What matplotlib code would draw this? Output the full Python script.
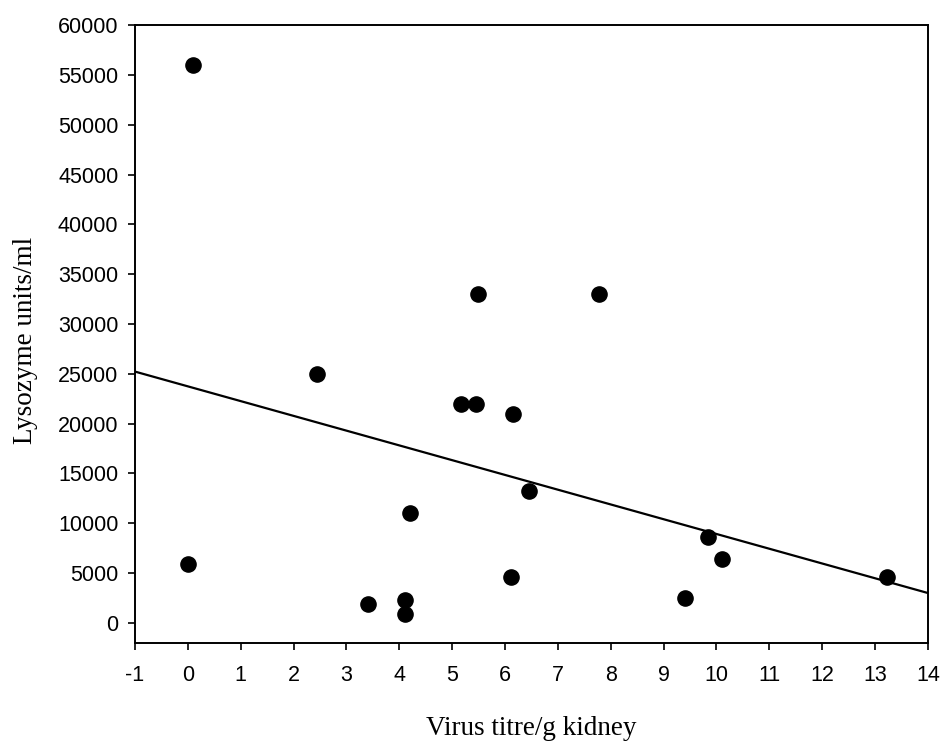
import numpy as np
import matplotlib
matplotlib.use("Agg")
import matplotlib.pyplot as plt

plt.rcParams["axes.unicode_minus"] = False

# values
virus_titre = [0.09, 0.0, 2.45, 3.4, 4.1, 4.1, 4.2, 5.48, 7.77, 5.16, 5.46,
               6.15, 6.45, 6.12, 9.41, 9.83, 10.1, 13.23]
lysozyme = [56000, 5900, 25000, 1900, 2300, 900, 11000, 33000, 33000, 22000,
            22000, 21000, 13200, 4600, 2500, 8600, 6400, 4600]

x_ticks = list(range(-1, 15))
y_ticks = list(range(0, 60001, 5000))

fig = plt.figure(figsize=(9.44, 7.43), dpi=100)
ax = fig.add_axes([0.143, 0.135, 0.840, 0.831])

ax.scatter(virus_titre, lysozyme, s=120, color="black", zorder=3)

# least squares trend line across the whole x range
slope, intercept = np.polyfit(virus_titre, lysozyme, 1)
xl = np.array([-1, 14])
ax.plot(xl, slope * xl + intercept, color="black", lw=1.6)

ax.set_xlim(-1, 14)
ax.set_ylim(-2000, 60000)
ax.set_xticks(x_ticks)
ax.set_yticks(y_ticks)
ax.tick_params(direction="out", length=5, width=1.2, labelsize=15.5)
ax.tick_params(axis="x", pad=11)
ax.tick_params(axis="y", pad=7)
for lab in ax.get_xticklabels() + ax.get_yticklabels():
    lab.set_family("Liberation Sans")
for sp in ax.spines.values():
    sp.set_linewidth(1.4)

ax.set_xlabel("Virus titre/g kidney", family="Liberation Serif", fontsize=19.5)
ax.set_ylabel("Lysozyme units/ml", family="Liberation Serif", fontsize=19.5)
ax.xaxis.set_label_coords(0.5, -0.118)
ax.yaxis.set_label_coords(-0.122, 0.49)

fig.savefig("out.png", dpi=100)
